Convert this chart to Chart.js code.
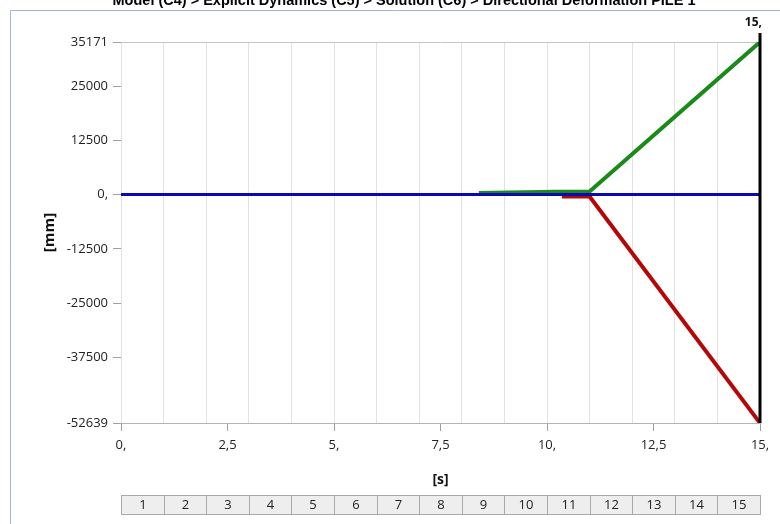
<!DOCTYPE html>
<html>
<head>
<meta charset="utf-8">
<script src="https://cdn.jsdelivr.net/npm/chart.js@4.4.0/dist/chart.umd.min.js"></script>
<style>
    html, body { margin: 0; padding: 0; background: #fff; }
    #wrap { width: 780px; height: 524px; position: relative; }
</style>
</head>
<body>
<div id="wrap"><canvas id="deformChart"></canvas></div>
<script>
// texts
const chartTitle = 'Model (C4) > Explicit Dynamics (C5) > Solution (C6) > Directional Deformation PILE 1';
const xTitle = '[s]';
const yTitle = '[mm]';

// series (time [s] / deformation [mm])
const timeBlue = [0, 15];
const valBlue = [0, 0];
const timeGreen = [8.4, 10.2, 11.0, 15];
const valGreen = [350, 650, 700, 35171];
const timeRed = [10.35, 11.0, 15];
const valRed = [-450, -450, -52639];

// axes
const yMin = -52639;
const yMax = 35171;
const yTicks = [-52639, -37500, -25000, -12500, 0, 12500, 25000, 35171];
const xLabelTicks = [0, 2.5, 5, 7.5, 10, 12.5, 15];
const xLabelText = ['0,', '2,5', '5,', '7,5', '10,', '12,5', '15,'];
const stepLabels = ['1', '2', '3', '4', '5', '6', '7', '8', '9', '10', '11', '12', '13', '14', '15'];
const cursorTime = 15;
const cursorLabel = '15,';

function toPoints(ts, vs) {
    return ts.map((t, i) => ({ x: t, y: vs[i] }));
}

// gridlines at each step boundary + the labelled ticks
const stepBounds = [0].concat(stepLabels.map(s => Number(s)));
const allXTicks = [...new Set(stepBounds.concat(xLabelTicks))].sort((a, b) => a - b);

const decor = {
    id: 'decor',
    beforeDraw(chart) {
        const ctx = chart.ctx;
        ctx.save();
        ctx.fillStyle = '#fff';
        ctx.fillRect(0, 0, chart.width, chart.height);
        // frame
        ctx.strokeStyle = '#9fb6d8';
        ctx.lineWidth = 1;
        ctx.beginPath();
        ctx.moveTo(10.5, chart.height);
        ctx.lineTo(10.5, 10.5);
        ctx.lineTo(chart.width, 10.5);
        ctx.stroke();
        // title, cut at the top like in the screenshot
        ctx.fillStyle = '#000';
        ctx.font = 'bold 14.5px "Liberation Sans", Arial, sans-serif';
        ctx.textAlign = 'center';
        ctx.textBaseline = 'alphabetic';
        ctx.fillText(chartTitle, 404, 5);
        ctx.restore();
    },
    afterDatasetsDraw(chart) {
        const ctx = chart.ctx;
        const xs = chart.scales.x;
        const area = chart.chartArea;
        const cx = Math.round(xs.getPixelForValue(cursorTime));
        ctx.save();
        ctx.strokeStyle = '#000';
        ctx.lineWidth = 3;
        ctx.beginPath();
        ctx.moveTo(cx, area.top - 9);
        ctx.lineTo(cx, area.bottom);
        ctx.stroke();
        ctx.fillStyle = '#111';
        ctx.font = 'bold 12px "Open Sans", sans-serif';
        ctx.textAlign = 'right';
        ctx.textBaseline = 'middle';
        ctx.fillText(cursorLabel, cx + 2, 23);
        ctx.restore();
    },
    afterDraw(chart) {
        // step bar under the chart
        const ctx = chart.ctx;
        const xs = chart.scales.x;
        const top = 495, h = 19;
        ctx.save();
        ctx.font = '13px "Open Sans", sans-serif';
        ctx.textAlign = 'center';
        ctx.textBaseline = 'middle';
        stepLabels.forEach((lab, i) => {
            const x0 = Math.round(xs.getPixelForValue(i)) + 0.5;
            const x1 = Math.round(xs.getPixelForValue(i + 1)) + 0.5;
            ctx.fillStyle = '#eeeeee';
            ctx.fillRect(x0, top, x1 - x0, h);
            ctx.strokeStyle = '#a9a9a9';
            ctx.lineWidth = 1;
            ctx.strokeRect(x0, top + 0.5, x1 - x0, h);
            ctx.fillStyle = '#222';
            ctx.fillText(lab, (x0 + x1) / 2, top + h / 2 + 1);
        });
        ctx.restore();
    }
};

new Chart(document.getElementById('deformChart'), {
    type: 'line',
    data: {
        datasets: [
            { label: 'Blue', data: toPoints(timeBlue, valBlue), borderColor: '#0808b8', borderWidth: 3 },
            { label: 'Green', data: toPoints(timeGreen, valGreen), borderColor: '#1a8a1a', borderWidth: 4 },
            { label: 'Red', data: toPoints(timeRed, valRed), borderColor: '#b40808', borderWidth: 4 }
        ]
    },
    options: {
        responsive: true,
        maintainAspectRatio: false,
        animation: false,
        events: [],
        elements: { point: { radius: 0 }, line: { tension: 0 } },
        layout: { padding: { top: 42, right: 20, left: 0, bottom: 0 } },
        plugins: { legend: { display: false }, tooltip: { enabled: false } },
        scales: {
            x: {
                type: 'linear',
                min: 0,
                max: 15,
                afterBuildTicks: s => { s.ticks = allXTicks.map(v => ({ value: v })); },
                afterFit: s => { s.height = 101; },
                border: { display: true, color: '#b4b4b4' },
                grid: {
                    color: c => (c.tick && Number.isInteger(c.tick.value)) ? '#e2e2e2' : 'rgba(0,0,0,0)',
                    tickColor: c => (c.tick && xLabelTicks.includes(c.tick.value)) ? '#a0a0a0' : 'rgba(0,0,0,0)',
                    tickLength: 8
                },
                ticks: {
                    autoSkip: false,
                    maxRotation: 0,
                    padding: 6,
                    color: '#222',
                    font: { family: 'Open Sans', size: 13 },
                    callback: v => {
                        const k = xLabelTicks.indexOf(v);
                        return k >= 0 ? xLabelText[k] : '';
                    }
                },
                title: {
                    display: true,
                    text: xTitle,
                    color: '#111',
                    font: { family: 'Open Sans', size: 14, weight: 'bold' },
                    padding: { top: 0, bottom: 35.6 }
                }
            },
            y: {
                type: 'linear',
                min: yMin,
                max: yMax,
                afterBuildTicks: s => { s.ticks = yTicks.map(v => ({ value: v })); },
                afterFit: s => { s.width = 121; },
                border: { display: false },
                grid: {
                    color: c => (c.tick && c.tick.value === yMax) ? '#c4c4c4' : 'rgba(0,0,0,0)',
                    tickColor: '#a0a0a0',
                    tickLength: 8
                },
                ticks: {
                    padding: 5,
                    color: '#222',
                    font: { family: 'Open Sans', size: 13 },
                    callback: v => v === 0 ? '0,' : String(v)
                },
                title: {
                    display: true,
                    text: yTitle,
                    color: '#111',
                    font: { family: 'Open Sans', size: 15, weight: 'bold' },
                    padding: { top: 41, bottom: 0 }
                }
            }
        }
    },
    plugins: [decor]
});
</script>
</body>
</html>
